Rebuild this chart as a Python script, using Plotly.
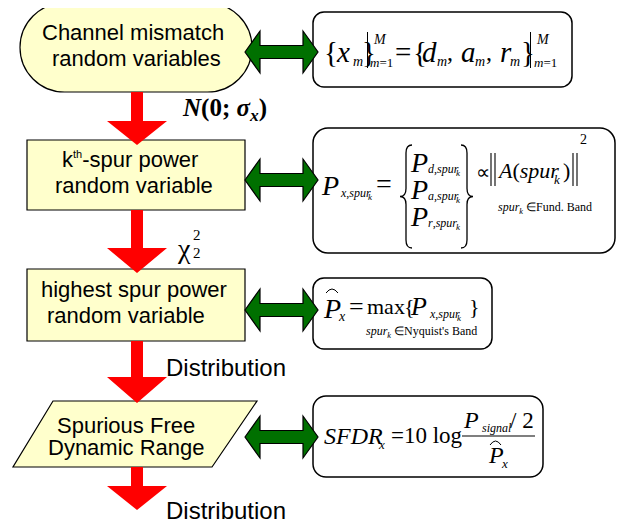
import plotly.graph_objects as go

# ---------------- text content ----------------
flow_box_lines = [
    ["Channel mismatch", "random variables"],
    ["k<sup><span style='font-size:11px'>th</span></sup>-spur power", "random variable"],
    ["highest spur power", "random variable"],
    ["Spurious Free", "Dynamic Range"],
]
transition_labels = ["<b><i>N</i>(0; <i>σ</i><sub><i>x</i></sub>)</b>", "χ", "2", "Distribution", "Distribution"]
band_labels = ["<i>spur</i><sub><i>k</i></sub> ∈Fund. Band",
               "<i>spur</i><sub><i>k</i></sub> ∈Nyquist's Band"]
mismatch_params = ["<i>d</i>", "<i>a</i>", "<i>r</i>"]
spur_power_subs = ["<i>d</i>,<i>spur</i>", "<i>a</i>,<i>spur</i>", "<i>r</i>,<i>spur</i>"]

SANS = "Liberation Sans, Arial, sans-serif"
SERIF = "Liberation Serif, Times New Roman, serif"
YELLOW = "#FFFFCC"
RED = "#FF0000"
GREEN = "#007000"

# the page body has an 8px margin: map data units 1:1 onto page pixels
PAGE_OFF = 8

shapes = []
annotations = []


def txt(x, y, s, size, font=SERIF, xanchor="left", yanchor="middle", color="black"):
    annotations.append(dict(x=x, y=y, xref="x", yref="y", text=s, showarrow=False,
                            xanchor=xanchor, yanchor=yanchor, borderpad=0,
                            font=dict(family=font, size=size, color=color)))


def path(d, fill=None, line="black", lw=1.2):
    shp = dict(type="path", path=d, xref="x", yref="y",
               line=dict(color=line if line else "rgba(0,0,0,0)", width=lw if line else 0))
    if fill:
        shp["fillcolor"] = fill
    shapes.append(shp)


def line(x0, y0, x1, y1, lw=1.2, color="black"):
    shapes.append(dict(type="line", x0=x0, y0=y0, x1=x1, y1=y1, xref="x", yref="y",
                       line=dict(color=color, width=lw)))


def rrect(x0, y0, x1, y1, r):
    k = 0.5523 * r
    return (f"M{x0+r},{y0} L{x1-r},{y0} C{x1-r+k},{y0} {x1},{y0+r-k} {x1},{y0+r} "
            f"L{x1},{y1-r} C{x1},{y1-r+k} {x1-r+k},{y1} {x1-r},{y1} "
            f"L{x0+r},{y1} C{x0+r-k},{y1} {x0},{y1-r+k} {x0},{y1-r} "
            f"L{x0},{y0+r} C{x0},{y0+r-k} {x0+r-k},{y0} {x0+r},{y0} Z")


def red_arrow(y0, yh, yt, cx=137, hs=6, hh=30):
    return (f"M{cx-hs},{y0} L{cx+hs},{y0} L{cx+hs},{yh} L{cx+hh},{yh} L{cx},{yt} "
            f"L{cx-hh},{yh} L{cx-hs},{yh} Z")


def green_arrow(c, L=245, R=318, hl=15, hh=21, sh=6.5):
    return (f"M{L},{c} L{L+hl},{c-hh} L{L+hl},{c-sh} L{R-hl},{c-sh} L{R-hl},{c-hh} L{R},{c} "
            f"L{R-hl},{c+hh} L{R-hl},{c+sh} L{L+hl},{c+sh} L{L+hl},{c+hh} Z")


def brace(xa, xb, y0, y1, left=True):
    xm = (xa + xb) / 2
    ym = (y0 + y1) / 2
    if left:
        return (f"M{xb},{y0} Q{xm},{y0} {xm},{y0+8} L{xm},{ym-8} Q{xm},{ym} {xa},{ym} "
                f"Q{xm},{ym} {xm},{ym+8} L{xm},{y1-8} Q{xm},{y1} {xb},{y1}")
    return (f"M{xa},{y0} Q{xm},{y0} {xm},{y0+8} L{xm},{ym-8} Q{xm},{ym} {xb},{ym} "
            f"Q{xm},{ym} {xm},{ym+8} L{xm},{y1-8} Q{xm},{y1} {xa},{y1}")


def hat(x0, x1, y):
    return f"M{x0},{y+3} Q{(x0+x1)/2},{y-5} {x1},{y+3}"


# ---------------- left flow boxes ----------------
path(rrect(20, 3, 252, 92, 44.5), fill=YELLOW, lw=1.2)
shapes.append(dict(type="rect", x0=27, y0=140, x1=245, y1=210, xref="x", yref="y",
                   fillcolor=YELLOW, line=dict(color="black", width=1.2)))
shapes.append(dict(type="rect", x0=27, y0=269, x1=245, y1=341, xref="x", yref="y",
                   fillcolor=YELLOW, line=dict(color="black", width=1.2)))
path("M53,401 L257,401 L212,467 L13,467 Z", fill=YELLOW, lw=1.2)

# red arrows
for y0, yh, yt in [(92, 121, 145), (210, 248, 273), (341, 377, 403), (467, 486, 510)]:
    path(red_arrow(y0, yh, yt), fill=RED, line=None)

# right formula boxes
path(rrect(313, 12, 572, 87, 11), fill="white", lw=1.5)
path(rrect(313, 128, 615, 253, 15), fill="white", lw=1.5)
path(rrect(313, 278, 492, 349, 11), fill="white", lw=1.5)
path(rrect(313, 396, 543, 477, 13), fill="white", lw=1.5)

# green double arrows
for c in [52, 180, 310, 437]:
    path(green_arrow(c), fill=GREEN, lw=1.2)

# flow box texts
box_line_pos = [[(132.5, 32), (136.5, 58)], [(130, 159), (133.5, 185)],
                [(133.5, 289), (126, 315)], [(125.5, 425), (126, 447)]]
for lines, poss in zip(flow_box_lines, box_line_pos):
    for s, (x, y) in zip(lines, poss):
        txt(x, y, s, 22, font=SANS, xanchor="center")

# transition labels
txt(181, 109, transition_labels[0], 25)
txt(176, 248, transition_labels[1], 28)
txt(192, 235, transition_labels[2], 15)
txt(192, 253, transition_labels[2], 15)
txt(165, 367, transition_labels[3], 24, font=SANS)
txt(165, 510, transition_labels[4], 24, font=SANS)

# ---------------- formula 1 ----------------
F1 = 29
txt(323, 52, "{", F1)
txt(335, 52, "<i>x</i>", F1)
txt(352, 61, "<i>m</i>", 14)
txt(361, 52, "}", F1)
line(367.5, 32, 367.5, 68, lw=1)
txt(372, 39, "<i>M</i>", 14)
txt(369, 62, "<i>m</i>=1", 13)
txt(394, 52, "=", F1)
txt(412, 52, "{", F1)
for s, xp, xs, xc in zip(mismatch_params, [421, 460, 499], [436, 474, 509], [446, 485, None]):
    txt(xp, 52, s, F1)
    txt(xs, 61, "<i>m</i>", 14)
    if xc:
        txt(xc, 52, ",", 24)
txt(520, 52, "}", F1)
line(530.5, 32, 530.5, 68, lw=1)
txt(535, 39, "<i>M</i>", 14)
txt(533, 62, "<i>m</i>=1", 13)

# ---------------- formula 2 ----------------
F2 = 28
txt(320, 185, "<i>P</i>", F2)
txt(339, 193, "<i>x</i>,<i>spur</i>", 12)
txt(367, 197, "<i>k</i>", 9)
txt(375, 183, "=", F2)
path(brace(400, 412, 145, 248, left=True), lw=1.3)
for s, y in zip(spur_power_subs, [162, 189, 216]):
    txt(409, y, "<i>P</i>", F2)
    txt(427, y + 7, s, 12)
    txt(455, y + 11, "<i>k</i>", 9)
path(brace(461, 473, 145, 248, left=False), lw=1.3)
txt(475, 172, "∝", 20)
line(491, 153, 491, 186, lw=1.1)
line(495, 153, 495, 186, lw=1.1)
txt(496, 170, "<i>A</i>(<i>spur</i>", 22)
txt(553, 179, "<i>k</i>", 13)
txt(562, 170, ")", 22)
line(573, 153, 573, 186, lw=1.1)
line(577, 153, 577, 186, lw=1.1)
txt(579, 139, "2", 14)
txt(545, 208, band_labels[0], 12, xanchor="center")

# ---------------- formula 3 ----------------
F3 = 28
txt(322, 308, "<i>P</i>", F3)
path(hat(326, 338, 290), lw=1)
txt(337, 316, "<i>x</i>", 14)
txt(348, 306, "=", 26)
txt(366, 306, "max", 22)
txt(403, 306, "{", 22)
txt(409, 306, "<i>P</i>", 26)
txt(428, 314, "<i>x</i>,<i>spur</i>", 12)
txt(456, 318, "<i>k</i>", 9)
txt(468, 306, "}", 22)
txt(421.5, 332, band_labels[1], 12, xanchor="center")

# ---------------- formula 4 ----------------
F4 = 24
txt(323, 436, "<i>SFDR</i>", F4)
txt(377, 444, "<i>x</i>", 13)
txt(390, 435, "=10 log", 23)
line(462, 436, 535, 436, lw=1.2)
txt(462, 420, "<i>P</i>", F4)
txt(481, 428, "<i>signal</i>", 12)
txt(509, 420, "/ 2", 23)
txt(487, 455, "<i>P</i>", F4)
path(hat(490, 501, 442), lw=1)
txt(500, 463, "<i>x</i>", 13)

fig = go.Figure()
fig.update_layout(
    width=624 - PAGE_OFF, height=525 - PAGE_OFF,
    margin=dict(l=0, r=0, t=0, b=0),
    paper_bgcolor="white", plot_bgcolor="white",
    xaxis=dict(range=[PAGE_OFF, 624], visible=False, fixedrange=True),
    yaxis=dict(range=[525, PAGE_OFF], visible=False, fixedrange=True),
    shapes=shapes, annotations=annotations,
    showlegend=False,
)
fig.write_html("out.html")
